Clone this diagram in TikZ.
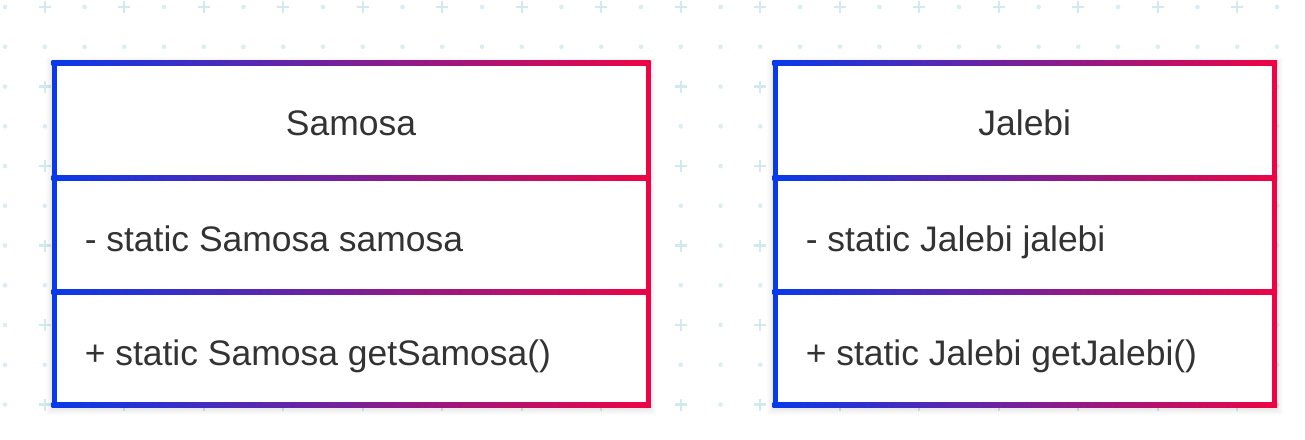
\documentclass[tikz,border=0pt]{standalone}
\usepackage{fontspec}
\setmainfont{Liberation Sans}
\definecolor{ublue}{RGB}{8,58,235}
\definecolor{ured}{RGB}{238,4,68}
\definecolor{txt}{RGB}{51,51,51}
\definecolor{dotc}{RGB}{218,237,241}
\definecolor{plusc}{RGB}{210,234,238}
\newcommand\classframe[2]{%
  \foreach \k in {1,...,8}{\fill[black,opacity=0.012] (#1-\k,63-\k+2) rectangle (#2+\k,405+\k+2);}
  \fill[white] (#1,63) rectangle (#2,405);
  \shade[hbar] (#1-2.5,60.5) rectangle (#2+2.5,65.5);
  \shade[hbar] (#1-2.5,175) rectangle (#2+2.5,180);
  \shade[hbar] (#1-2.5,289) rectangle (#2+2.5,294);
  \shade[hbar] (#1-2.5,402.5) rectangle (#2+2.5,407.5);
  \fill[ublue] (#1-2.5,60.5) rectangle (#1+2.5,407.5);
  \fill[ured] (#2-2.5,60.5) rectangle (#2+2.5,407.5);
}
\begin{document}
\begin{tikzpicture}[x=0.75pt,y=-0.75pt,
  title/.style={text=txt,font=\fontsize{26.6}{30}\selectfont,anchor=base,inner sep=0pt},
  member/.style={text=txt,font=\fontsize{26.6}{30}\selectfont,anchor=base west,inner sep=0pt},
  hbar/.style={left color=ublue,right color=ured},
  dotmark/.style={fill=dotc},
  plusmark/.style={draw=plusc,line width=1.8pt}
]
\useasboundingbox (0,0) rectangle (1305,439);
\fill[white] (0,0) rectangle (1305,439);
\foreach \i in {0,...,32}{
  \foreach \j in {0,...,10}{
    \pgfmathsetmacro\xx{5+39.75*\i}
    \pgfmathsetmacro\yy{7+39.75*\j}
    \pgfmathparse{int(and(mod(\i,2)==1,mod(\j,2)==0))}
    \ifnum\pgfmathresult=1
      \path[plusmark] (\xx-6,\yy) -- (\xx+6,\yy) (\xx,\yy-6) -- (\xx,\yy+6);
    \else
      \fill[dotmark] (\xx,\yy) circle (2.3);
    \fi
  }
}
\classframe{54}{648}
\classframe{775}{1274.5}
\node[title] (samosaTitle) at (351,135) {Samosa};
\node[member] (samosaAttr) at (84.5,251) {- static Samosa samosa};
\node[member] (samosaOp) at (84.5,365) {+ static Samosa getSamosa()};
\node[title] (jalebiTitle) at (1024.75,135) {Jalebi};
\node[member] (jalebiAttr) at (805.5,251) {- static Jalebi jalebi};
\node[member] (jalebiOp) at (805.5,365) {+ static Jalebi getJalebi()};
\end{tikzpicture}
\end{document}
